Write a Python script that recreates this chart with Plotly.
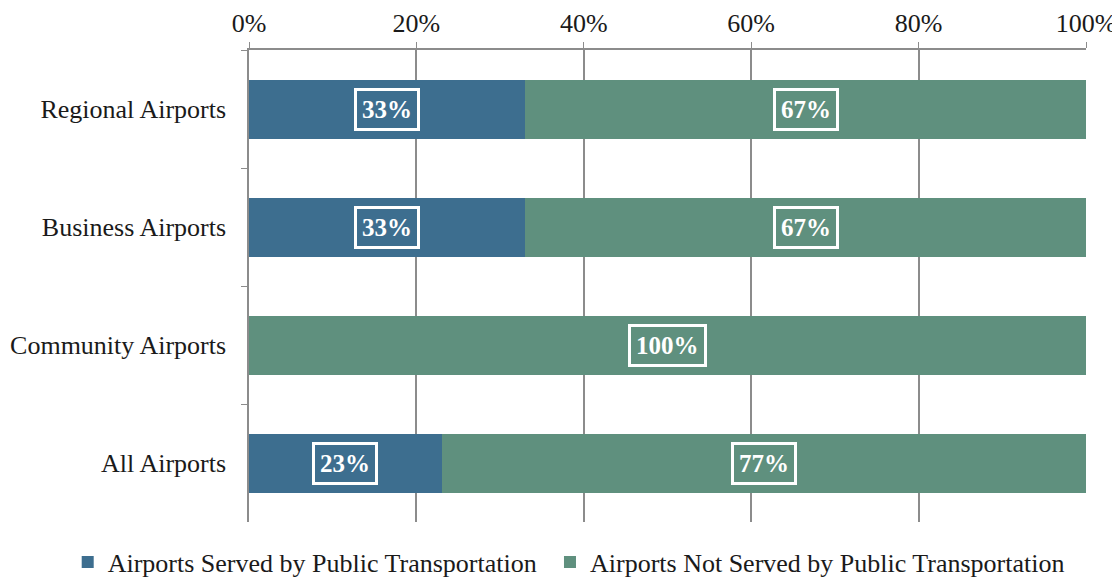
import plotly.graph_objects as go

categories = ['Regional Airports', 'Business Airports', 'Community Airports', 'All Airports']
served = [33, 33, 0, 23]
not_served = [67, 67, 100, 77]
x_ticks = [0, 20, 40, 60, 80, 100]

blue = '#3D6E8F'
green = '#5F907E'
font_family = 'Liberation Serif'

fig = go.Figure()
fig.add_trace(go.Bar(y=categories, x=served, orientation='h', name='Airports Served by Public Transportation',
                     marker=dict(color=blue, line=dict(width=0)), legend='legend'))
fig.add_trace(go.Bar(y=categories, x=not_served, orientation='h', name='Airports Not Served by Public Transportation',
                     marker=dict(color=green, line=dict(width=0)), legend='legend2'))

# boxed value labels in the middle of each segment
for cat, s, n in zip(categories, served, not_served):
    for start, val, col in [(0, s, blue), (s, n, green)]:
        if val <= 0:
            continue
        fig.add_annotation(x=start + val / 2, y=cat, text='<b>%d%%</b>' % val, showarrow=False,
                           font=dict(family=font_family, size=25, color='white'),
                           bgcolor=col, bordercolor='white', borderwidth=3, borderpad=5)

legend_font = dict(family=font_family, size=26, color='#1a1a1a')

# page body adds an 8px offset, so the figure is sized to fit the 1120x578 window
fig.update_layout(
    barmode='stack',
    bargap=0.5,
    width=1112, height=570,
    margin=dict(l=241, r=34, t=42, b=56, autoexpand=False),
    plot_bgcolor='white', paper_bgcolor='white',
    font=dict(family=font_family, size=26, color='#1a1a1a'),
    legend=dict(orientation='h', x=-0.2166, y=-0.085, xanchor='left', yanchor='middle',
                font=legend_font, itemwidth=30),
    legend2=dict(orientation='h', x=0.3596, y=-0.085, xanchor='left', yanchor='middle',
                 font=legend_font, itemwidth=30),
    showlegend=True,
)
fig.update_xaxes(side='top', range=[0, 100], tickvals=x_ticks, ticktext=['%d%%' % v for v in x_ticks],
                 showgrid=True, gridcolor='#8c8c8c', gridwidth=1.5, showline=True, linecolor='#8c8c8c', linewidth=1.5,
                 ticks='outside', ticklen=6, tickcolor='#8c8c8c', zeroline=False, automargin=False)
fig.update_yaxes(categoryorder='array', categoryarray=categories, autorange='reversed',
                 showline=True, linecolor='#8c8c8c', linewidth=1.5, ticks='outside', tickson='boundaries',
                 ticklen=6, tickcolor='#8c8c8c', ticklabelstandoff=16, showgrid=False, automargin=False)

fig.write_html("out.html")
